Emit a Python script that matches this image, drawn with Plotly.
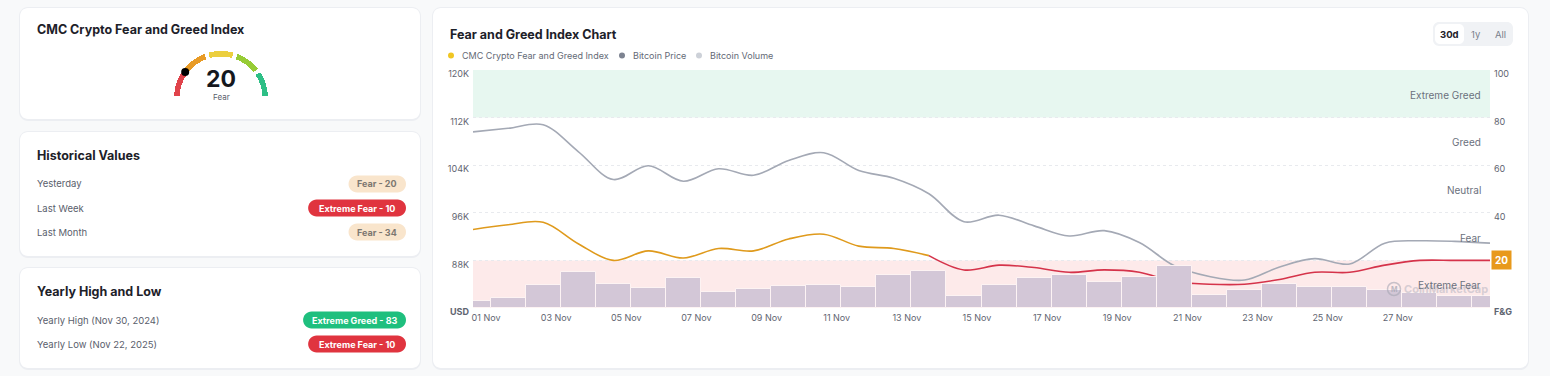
import plotly.graph_objects as go

# ---------------- data ----------------
dates = ["2025-11-01", "2025-11-02", "2025-11-03", "2025-11-04", "2025-11-05", "2025-11-06",
         "2025-11-07", "2025-11-08", "2025-11-09", "2025-11-10", "2025-11-11", "2025-11-12",
         "2025-11-13", "2025-11-14", "2025-11-15", "2025-11-16", "2025-11-17", "2025-11-18",
         "2025-11-19", "2025-11-20", "2025-11-21", "2025-11-22", "2025-11-23", "2025-11-24",
         "2025-11-25", "2025-11-26", "2025-11-27", "2025-11-28", "2025-11-29", "2025-11-30"]

fg_index = [33, 35, 36, 27, 20, 24, 21, 25, 24, 29, 31, 26, 25, 22, 16,
            18, 17, 15, 16, 15, 11, 10, 10, 12, 15, 15, 18, 20, 20, 20]

btc_price_k = [109.6, 110.2, 110.8, 106.3, 101.6, 103.9, 101.3, 103.4, 102.3, 104.8,
               106.1, 103.1, 101.8, 99.2, 94.5, 95.6, 93.8, 92.1, 93.0, 91.0,
               87.1, 85.3, 84.7, 86.9, 88.3, 87.4, 90.9, 91.3, 91.2, 90.9]

btc_volume_b = [8.8, 13.0, 29.0, 45.0, 30.6, 25.2, 37.4, 20.2, 23.6, 27.7,
                29.0, 26.1, 41.6, 46.6, 15.1, 29.0, 38.2, 41.6, 32.8, 39.4,
                52.9, 16.0, 23.1, 30.2, 26.5, 26.5, 22.3, 19.3, 15.5, 15.1]

x_tick_dates = ["2025-11-01", "2025-11-03", "2025-11-05", "2025-11-07", "2025-11-09",
                "2025-11-11", "2025-11-13", "2025-11-15", "2025-11-17", "2025-11-19",
                "2025-11-21", "2025-11-23", "2025-11-25", "2025-11-27"]
x_tick_text = ["01 Nov", "03 Nov", "05 Nov", "07 Nov", "09 Nov", "11 Nov", "13 Nov",
               "15 Nov", "17 Nov", "19 Nov", "21 Nov", "23 Nov", "25 Nov", "27 Nov"]

price_ticks = [80000, 88000, 96000, 104000, 112000, 120000]
price_tick_text = ["<b>USD</b>", "88K", "96K", "104K", "112K", "120K"]
fg_ticks = [0, 40, 60, 80, 100]          # 20 sits under the current-value badge
fg_tick_text = ["<b>F&amp;G</b>", "40", "60", "80", "100"]

band_lo = [0, 20, 40, 60, 80]
band_hi = [20, 40, 60, 80, 100]
band_names = ["Extreme Fear", "Fear", "Neutral", "Greed", "Extreme Greed"]
gauge_colors = ["#e0434b", "#e89b26", "#eccf3f", "#97cc36", "#2dbf86"]

hist_labels = ["Yesterday", "Last Week", "Last Month"]
hist_values = [20, 10, 34]
year_labels = ["Yearly High (Nov 30, 2024)", "Yearly Low (Nov 22, 2025)"]
year_values = [83, 10]

# ---------------- helpers ----------------
W, H = 1550, 376
FONT = "Inter, 'Noto Sans', sans-serif"


def px(x):
    return x / W


def py(y):
    return 1 - y / H


def classify(v):
    for lo, hi, name in zip(band_lo, band_hi, band_names):
        if v < hi or hi == 100:
            return name
    return band_names[-1]


def rrect_path(x0, y0, x1, y1, r):
    k = 0.5523 * r

    def P(x, y):
        return f"{px(x):.6f},{py(y):.6f}"
    return (f"M{P(x0 + r, y0)} L{P(x1 - r, y0)} C{P(x1 - r + k, y0)} {P(x1, y0 + r - k)} {P(x1, y0 + r)} "
            f"L{P(x1, y1 - r)} C{P(x1, y1 - r + k)} {P(x1 - r + k, y1)} {P(x1 - r, y1)} "
            f"L{P(x0 + r, y1)} C{P(x0 + r - k, y1)} {P(x0, y1 - r + k)} {P(x0, y1 - r)} "
            f"L{P(x0, y0 + r)} C{P(x0, y0 + r - k)} {P(x0 + r - k, y0)} {P(x0 + r, y0)} Z")


shapes = []
annotations = []


def rrect(x0, y0, x1, y1, r, fill, layer="below"):
    shapes.append(dict(type="path", xref="paper", yref="paper", path=rrect_path(x0, y0, x1, y1, r),
                       fillcolor=fill, line=dict(width=0), layer=layer))


def text(x, y, t, size, color, weight=400, anchor="left"):
    annotations.append(dict(xref="paper", yref="paper", x=px(x), y=py(y), text=t, showarrow=False,
                            xanchor=anchor, yanchor="middle",
                            font=dict(family=FONT, size=size, color=color, weight=weight)))


# ---------------- cards ----------------
cards = [(20, 8, 420, 119), (20, 132, 420, 256), (20, 268, 420, 368), (433, 8, 1528, 368)]
for (x0, y0, x1, y1) in cards:
    rrect(x0 - 1, y0 - 1, x1 + 1, y1 + 2, 9, "#eceef2")
    rrect(x0, y0, x1, y1, 8, "#ffffff")

# ---------------- left panel ----------------
TITLE_C = "#1d2129"
ROW_C = "#5a606c"
text(35, 30, "CMC Crypto Fear and Greed Index", 12.5, TITLE_C, 700)
text(35, 155, "Historical Values", 12.5, TITLE_C, 700)
text(35, 291, "Yearly High and Low", 12.5, TITLE_C, 700)

badge_style = {
    "Extreme Fear": ("#e0343f", "#ffffff"),
    "Fear": ("#f9e5cc", "#7c7770"),
    "Neutral": ("#eceef1", "#5a606c"),
    "Greed": ("#c8eccc", "#2d6b35"),
    "Extreme Greed": ("#1fbf7e", "#ffffff"),
}


def badge(right, cy, value):
    cls = classify(value)
    label = f"{cls} - {value}"
    bg, fg = badge_style[cls]
    w = 5.05 * len(label) + 12
    rrect(right - w, cy - 8.5, right, cy + 8.5, 8.5, bg, layer="above")
    text(right - w / 2, cy, label, 9, fg, 700, anchor="center")


for lab, val, cy in zip(hist_labels, hist_values, [184, 208, 232]):
    text(35, cy, lab, 9.5, ROW_C)
    badge(406, cy, val)
for lab, val, cy in zip(year_labels, year_values, [320, 344]):
    text(35, cy, lab, 9.5, ROW_C)
    badge(406, cy, val)

# gauge number & label
current = fg_index[-1]
text(221, 79, f"<b>{current}</b>", 23, "#15181e", 700, anchor="center")
text(221, 97, classify(current), 8, "#5a606c", anchor="center")

# ---------------- chart header ----------------
text(448, 34, "Fear and Greed Index Chart", 12.5, TITLE_C, 700)
legend_items = [("CMC Crypto Fear and Greed Index", "#f0c623", 451, 460),
                ("Bitcoin Price", "#7d8391", 622, 631),
                ("Bitcoin Volume", "#cdd1d8", 699, 708)]
for name, col, dx, tx in legend_items:
    shapes.append(dict(type="circle", xref="paper", yref="paper",
                       x0=px(dx - 3), x1=px(dx + 3), y0=py(55.5 + 3), y1=py(55.5 - 3),
                       fillcolor=col, line=dict(width=0)))
    text(tx, 55.5, name, 9, "#646a76")

# period buttons
rrect(1433, 22, 1513, 46, 6, "#f0f2f5", layer="above")
rrect(1435, 24, 1464, 44, 5, "#ffffff", layer="above")
text(1449.5, 34, "30d", 9.5, "#1d2129", 700, anchor="center")
text(1476, 34, "1y", 9.5, "#7a808c", anchor="center")
text(1500, 34, "All", 9.5, "#7a808c", anchor="center")

# ---------------- chart bands ----------------
band_fill = {"Extreme Fear": "#fdeaea", "Extreme Greed": "#e7f7f0"}
for lo, hi, name in zip(band_lo, band_hi, band_names):
    if name in band_fill:
        shapes.append(dict(type="rect", xref="x domain", yref="y2", x0=0, x1=1, y0=lo, y1=hi,
                           fillcolor=band_fill[name], line=dict(width=0), layer="below"))

# watermark (logo mark)
shapes.append(dict(type="circle", xref="paper", yref="paper",
                   x0=px(1387.5), x1=px(1400.5), y0=py(295.5), y1=py(282.5),
                   fillcolor="rgba(0,0,0,0)", line=dict(color="rgba(165,165,178,0.6)", width=1.5),
                   layer="above"))
text(1394, 289.5, "<b>M</b>", 7, "rgba(165,165,178,0.75)", 700, anchor="center")
text(1402, 289, "CoinMarketCap", 11, "rgba(175,175,188,0.5)", 700)

for lo, hi, name in zip(band_lo, band_hi, band_names):
    annotations.append(dict(xref="x domain", yref="y2", x=1, xshift=-7, y=(lo + hi) / 2, yshift=-1,
                            text=name, showarrow=False, xanchor="right", yanchor="middle",
                            font=dict(family=FONT, size=10, color="#6b717d")))

# current value badge on the F&G axis
annotations.append(dict(xref="paper", yref="y2", x=px(1490.5), y=current, text=f"<b>{current}</b>",
                        showarrow=False, xanchor="left", yanchor="middle", bgcolor="#e8991c",
                        borderpad=3, font=dict(family=FONT, size=10, color="#ffffff")))

# ---------------- traces ----------------
fig = go.Figure()

fig.add_trace(go.Bar(x=dates, y=btc_volume_b, yaxis="y3", name="Bitcoin Volume",
                     marker=dict(color="#d3c7d7", line=dict(color="rgba(255,245,245,0.9)", width=1)),
                     showlegend=False, hoverinfo="skip"))

fig.add_trace(go.Scatter(x=dates, y=[p * 1000 for p in btc_price_k], yaxis="y", mode="lines",
                         name="Bitcoin Price", line=dict(color="#a4a9b5", width=1.6, shape="spline", smoothing=1),
                         showlegend=False, hoverinfo="skip"))

split = next(i for i, v in enumerate(fg_index) if v < band_hi[0])
fig.add_trace(go.Scatter(x=dates[:split], y=fg_index[:split], yaxis="y2", mode="lines",
                         name="CMC Crypto Fear and Greed Index",
                         line=dict(color="#df9a1c", width=1.6, shape="spline", smoothing=1),
                         showlegend=False, hoverinfo="skip"))
fig.add_trace(go.Scatter(x=dates[split - 1:], y=fg_index[split - 1:], yaxis="y2", mode="lines",
                         name="CMC Crypto Fear and Greed Index",
                         line=dict(color="#d5334a", width=1.6, shape="spline", smoothing=1),
                         showlegend=False, hoverinfo="skip"))

# gauge (polar)
fig.add_trace(go.Barpolar(r=[0.11] * len(band_lo), base=[0.83] * len(band_lo),
                          theta=[(lo + hi) / 2 * 1.8 for lo, hi in zip(band_lo, band_hi)],
                          width=[31] * len(band_lo),
                          marker=dict(color=gauge_colors, line=dict(width=0)),
                          showlegend=False, hoverinfo="skip", subplot="polar"))
fig.add_trace(go.Scatterpolar(r=[0.885], theta=[current * 1.8], mode="markers",
                              marker=dict(color="#000000", size=8),
                              showlegend=False, hoverinfo="skip", subplot="polar"))

tickfont = dict(family=FONT, size=9, color="#5f6571")

fig.update_layout(
    template="none",
    width=W, height=H, autosize=False,
    margin=dict(l=0, r=0, t=0, b=0, pad=0),
    paper_bgcolor="#f8f9fa",
    plot_bgcolor="#ffffff",
    hovermode=False,
    bargap=0,
    showlegend=False,
    font=dict(family=FONT),
    xaxis=dict(domain=[px(473), px(1490)], type="date", range=["2025-11-01", "2025-11-30"],
               tickvals=x_tick_dates, ticktext=x_tick_text, ticks="", showgrid=False,
               zeroline=False, showline=False, tickfont=tickfont, ticklabelshift=13,
               ticklabelstandoff=3, fixedrange=True, automargin=False),
    yaxis=dict(domain=[py(308), py(70)], range=[80000, 120000], tickvals=price_ticks,
               ticktext=price_tick_text, ticks="", showgrid=True, gridcolor="#e8eaee",
               griddash="dot", gridwidth=1, zeroline=False, showline=False, tickfont=tickfont,
               ticklabelshift=4, ticklabelstandoff=3, fixedrange=True, automargin=False),
    yaxis2=dict(overlaying="y", side="right", anchor="x", range=[0, 100], tickvals=fg_ticks,
                ticktext=fg_tick_text, ticks="", showgrid=False, zeroline=False, showline=False,
                tickfont=tickfont, ticklabelshift=4, ticklabelstandoff=3, fixedrange=True,
                automargin=False),
    yaxis3=dict(overlaying="y", range=[0, 300], visible=False, fixedrange=True, automargin=False),
    polar=dict(domain=dict(x=[px(171), px(271)], y=[py(98), py(48)]), sector=[0, 180],
               bgcolor="rgba(0,0,0,0)",
               radialaxis=dict(visible=False, range=[0, 1]),
               angularaxis=dict(visible=False, rotation=180, direction="clockwise")),
    shapes=shapes,
    annotations=annotations,
)

fig.write_html("out.html", config={"displayModeBar": False},
               post_script="document.body.style.margin='0';document.body.style.overflow='hidden';")
